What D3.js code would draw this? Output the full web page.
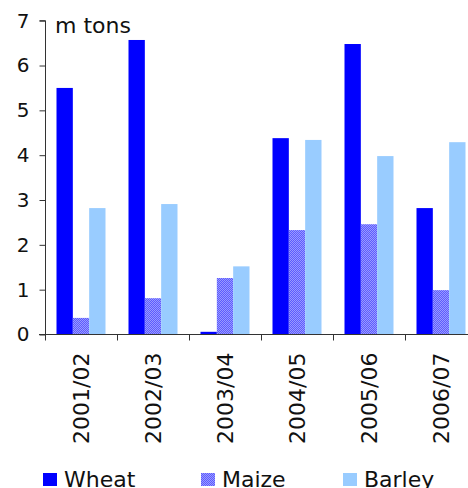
<!DOCTYPE html>
<html>
<head>
<meta charset="utf-8">
<script src="https://cdn.jsdelivr.net/npm/d3@7"></script>
<style>
  body { margin: 0; background: #fff; }
  svg { display: block; font-family: "DejaVu Sans", Verdana, sans-serif; }
</style>
</head>
<body>
<div id="chart"></div>
<script>
// crop years and production (m tons)
var seasons = ["2001/02", "2002/03", "2003/04", "2004/05", "2005/06", "2006/07"];
var wheat  = [5.50, 6.57, 0.06, 4.38, 6.48, 2.82];
var maize  = [0.37, 0.81, 1.26, 2.33, 2.46, 0.99];
var barley = [2.82, 2.91, 1.52, 4.34, 3.98, 4.29];
var seriesNames = ["Wheat", "Maize", "Barley"];
var yTicks = [0, 1, 2, 3, 4, 5, 6, 7];

var width = 468, height = 488;
var svg = d3.select("#chart").append("svg")
  .attr("width", width)
  .attr("height", height);

// maize fill is a fine dotted pattern
var defs = svg.append("defs");
var pat = defs.append("pattern")
  .attr("id", "maizeFill")
  .attr("width", 2).attr("height", 2)
  .attr("patternUnits", "userSpaceOnUse");
pat.append("rect").attr("width", 2).attr("height", 2).attr("fill", "#9a9aff");
pat.append("rect").attr("width", 1).attr("height", 1).attr("fill", "#5c5cff");
pat.append("rect").attr("x", 1).attr("y", 1).attr("width", 1).attr("height", 1).attr("fill", "#5c5cff");

var colors = ["#0000ff", "url(#maizeFill)", "#99ccff"];

// plot runs past the right edge, like the original
var x0 = d3.scaleBand().domain(seasons).range([45, 477]);
// ~23px gap between groups
var x1 = d3.scaleBand().domain(seriesNames).range([11.5, x0.bandwidth() - 11.5]);

var y = d3.scaleLinear().domain([0, 7]).range([334.5, 20.7]);

var rows = seasons.map(function(s, i) {
  return { season: s, values: [wheat[i], maize[i], barley[i]] };
});

var groups = svg.selectAll("g.grp")
  .data(rows)
  .enter().append("g")
  .attr("class", "grp")
  .attr("transform", function(d) { return "translate(" + x0(d.season) + ",0)"; });

groups.selectAll("rect")
  .data(function(d) { return d.values.map(function(v, k) { return { k: k, v: v }; }); })
  .enter().append("rect")
  .attr("x", function(d) { return x1(seriesNames[d.k]); })
  .attr("width", x1.bandwidth())
  .attr("y", function(d) { return y(d.v); })
  .attr("height", function(d) { return y(0) - y(d.v); })
  .attr("fill", function(d) { return colors[d.k]; });

// y axis
var yAxis = svg.append("g")
  .attr("transform", "translate(45.5,0)")
  .call(d3.axisLeft(y).tickValues(yTicks).tickSize(6).tickPadding(10).tickFormat(d3.format("d")));
yAxis.select(".domain").attr("stroke", "#333").attr("d", "M-6," + y(7) + "H0V" + y(0));
yAxis.selectAll(".tick line").attr("stroke", "#333");
yAxis.selectAll(".tick text")
  .attr("font-size", "20px")
  .attr("fill", "#111")
  .attr("font-family", "DejaVu Sans, Verdana, sans-serif");

// x axis
var xAxis = svg.append("g")
  .attr("transform", "translate(0," + (y(0)) + ")");
xAxis.append("line")
  .attr("x1", 39).attr("x2", 477)
  .attr("stroke", "#333");
xAxis.selectAll("line.tk")
  .data(seasons)
  .enter().append("line")
  .attr("class", "tk")
  .attr("x1", function(d) { return Math.round(x0(d)) + 0.5; })
  .attr("x2", function(d) { return Math.round(x0(d)) + 0.5; })
  .attr("y1", 0).attr("y2", 6)
  .attr("stroke", "#333");
xAxis.selectAll("text")
  .data(seasons)
  .enter().append("text")
  .attr("transform", function(d) { return "translate(" + (x0(d) + x0.bandwidth() / 2 + 8) + ",18) rotate(-90)"; })
  .attr("text-anchor", "end")
  .attr("font-size", "22px")
  .attr("fill", "#111")
  .text(function(d) { return d; });

// unit label
svg.append("text")
  .attr("x", 55)
  .attr("y", 33)
  .attr("font-size", "22px")
  .attr("fill", "#111")
  .text("m tons");

// legend
var legendX = [43, 201, 343];
var legend = svg.selectAll("g.leg")
  .data(seriesNames)
  .enter().append("g")
  .attr("class", "leg")
  .attr("transform", function(d, i) { return "translate(" + legendX[i] + ",473)"; });
legend.append("rect")
  .attr("width", 14).attr("height", 13)
  .attr("fill", function(d, i) { return colors[i]; });
legend.append("text")
  .attr("x", 21).attr("y", 14)
  .attr("font-size", "22px")
  .attr("fill", "#111")
  .text(function(d) { return d; });
</script>
</body>
</html>
